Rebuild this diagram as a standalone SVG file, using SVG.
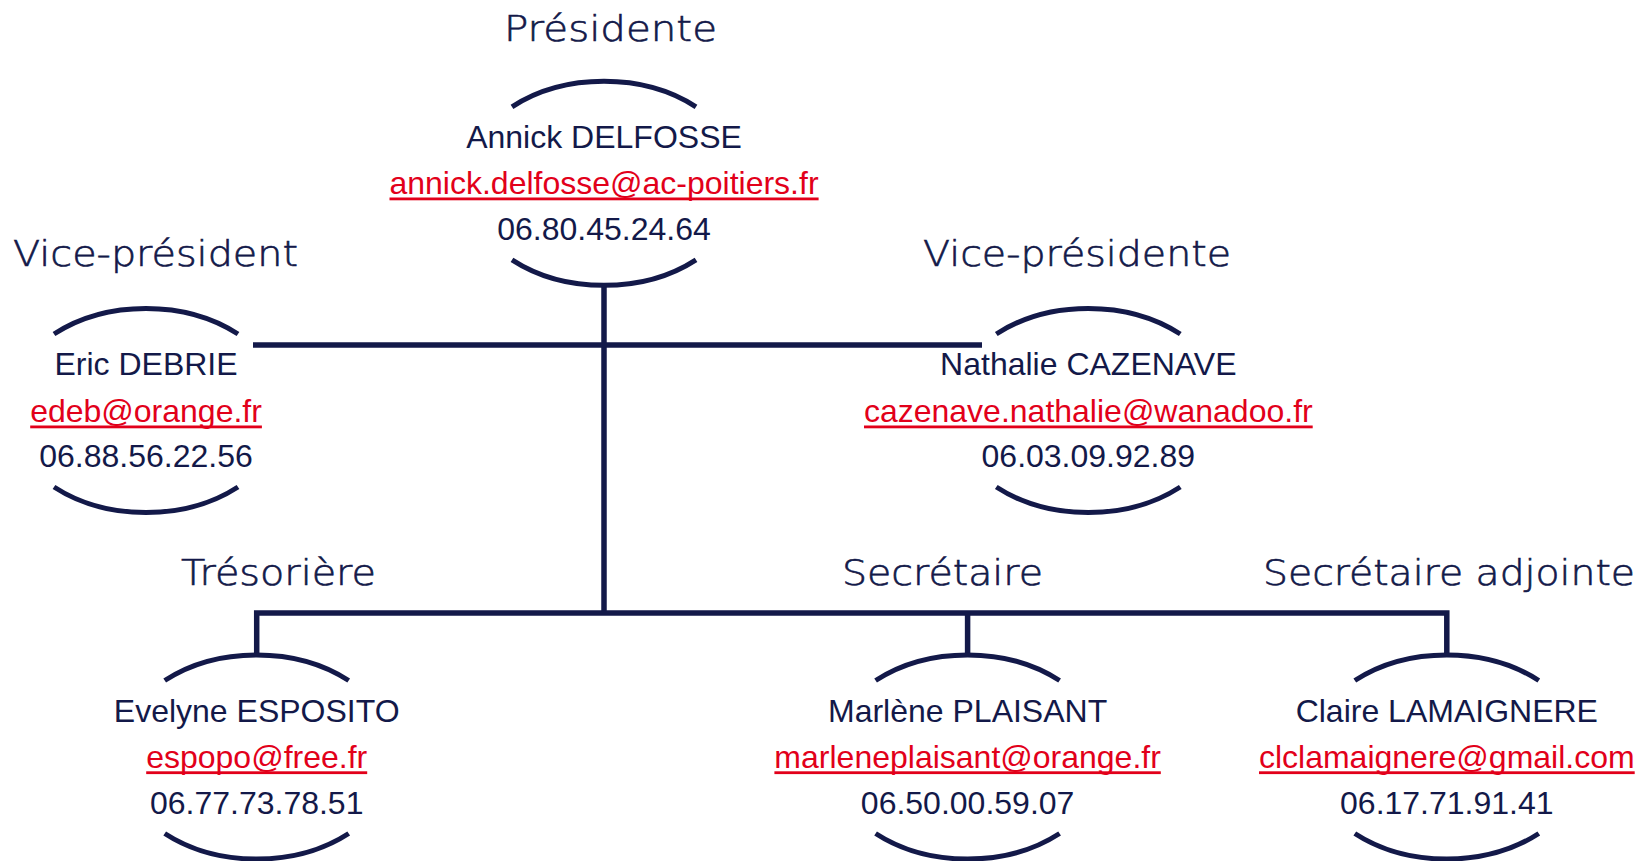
<svg xmlns="http://www.w3.org/2000/svg" width="1641" height="861" viewBox="0 0 1641 861">
<style>
.bg{fill:#ffffff}
.arc{fill:none;stroke:#131949;stroke-width:5}
.conn{fill:none;stroke:#131949;stroke-width:5.5;stroke-linejoin:miter;stroke-linecap:butt}
.title{font-family:"DejaVu Sans","Liberation Sans",sans-serif;font-weight:200;font-size:35px;fill:#131949;stroke:#131949;stroke-width:0.6}
.name{font-family:"Liberation Sans",Arial,sans-serif;font-size:32px;fill:#131949;text-anchor:middle}
.mail{font-family:"Liberation Sans",Arial,sans-serif;font-size:32px;fill:#e2001a;text-anchor:middle}
.ul{fill:#e2001a}
</style>
<rect class="bg" x="0" y="0" width="1641" height="861"/>
<g id="connectors">
<path class="conn" d="M604 284 V613"/>
<path class="conn" d="M253 345 H982"/>
<path class="conn" d="M256.7 656 V613 H1446.8 V656"/>
<path class="conn" d="M967.6 613 V656"/>
</g>
<g id="node-presidente">
<text class="title" x="504" y="41" textLength="213" lengthAdjust="spacingAndGlyphs">Présidente</text>
<path class="arc" d="M512 106.8 A139 102 0 0 1 696 106.8"/>
<path class="arc" d="M512 259.8 A139 102 0 0 0 696 259.8"/>
<text class="name" x="604" y="147.5">Annick DELFOSSE</text>
<text class="mail" x="604" y="193.5">annick.delfosse@ac-poitiers.fr</text>
<rect class="ul" x="389.5" y="197.5" width="429.1" height="2.8"/>
<text class="name" x="604" y="239.5">06.80.45.24.64</text>
</g>
<g id="node-vice-president">
<text class="title" x="13" y="266" textLength="285" lengthAdjust="spacingAndGlyphs">Vice-président</text>
<path class="arc" d="M54 334 A139 102 0 0 1 238 334"/>
<path class="arc" d="M54 487 A139 102 0 0 0 238 487"/>
<text class="name" x="146" y="375">Eric DEBRIE</text>
<text class="mail" x="146" y="421.5">edeb@orange.fr</text>
<rect class="ul" x="30.2" y="425.5" width="231.7" height="2.8"/>
<text class="name" x="146" y="467">06.88.56.22.56</text>
</g>
<g id="node-vice-presidente">
<text class="title" x="923" y="266" textLength="308" lengthAdjust="spacingAndGlyphs">Vice-présidente</text>
<path class="arc" d="M996.3 334 A139 102 0 0 1 1180.3 334"/>
<path class="arc" d="M996.3 487 A139 102 0 0 0 1180.3 487"/>
<text class="name" x="1088.3" y="375">Nathalie CAZENAVE</text>
<text class="mail" x="1088.3" y="421.5">cazenave.nathalie@wanadoo.fr</text>
<rect class="ul" x="864" y="425.5" width="448.7" height="2.8"/>
<text class="name" x="1088.3" y="467">06.03.09.92.89</text>
</g>
<g id="node-tresoriere">
<text class="title" x="181" y="585" textLength="195" lengthAdjust="spacingAndGlyphs">Trésorière</text>
<path class="arc" d="M164.7 680.5 A139 102 0 0 1 348.7 680.5"/>
<path class="arc" d="M164.7 833.5 A139 102 0 0 0 348.7 833.5"/>
<text class="name" x="256.7" y="721.7">Evelyne ESPOSITO</text>
<text class="mail" x="256.7" y="767.5">espopo@free.fr</text>
<rect class="ul" x="146.2" y="771.3" width="221" height="2.8"/>
<text class="name" x="256.7" y="813.5">06.77.73.78.51</text>
</g>
<g id="node-secretaire">
<text class="title" x="842" y="585" textLength="201" lengthAdjust="spacingAndGlyphs">Secrétaire</text>
<path class="arc" d="M875.6 680.5 A139 102 0 0 1 1059.6 680.5"/>
<path class="arc" d="M875.6 833.5 A139 102 0 0 0 1059.6 833.5"/>
<text class="name" x="967.6" y="721.7">Marlène PLAISANT</text>
<text class="mail" x="967.6" y="767.5">marleneplaisant@orange.fr</text>
<rect class="ul" x="774.4" y="771.3" width="386.4" height="2.8"/>
<text class="name" x="967.6" y="813.5">06.50.00.59.07</text>
</g>
<g id="node-secretaire-adjointe">
<text class="title" x="1263" y="585" textLength="372" lengthAdjust="spacingAndGlyphs">Secrétaire adjointe</text>
<path class="arc" d="M1354.8 680.5 A139 102 0 0 1 1538.8 680.5"/>
<path class="arc" d="M1354.8 833.5 A139 102 0 0 0 1538.8 833.5"/>
<text class="name" x="1446.8" y="721.7">Claire LAMAIGNERE</text>
<text class="mail" x="1446.8" y="767.5">clclamaignere@gmail.com</text>
<rect class="ul" x="1259" y="771.3" width="375.7" height="2.8"/>
<text class="name" x="1446.8" y="813.5">06.17.71.91.41</text>
</g>
</svg>
